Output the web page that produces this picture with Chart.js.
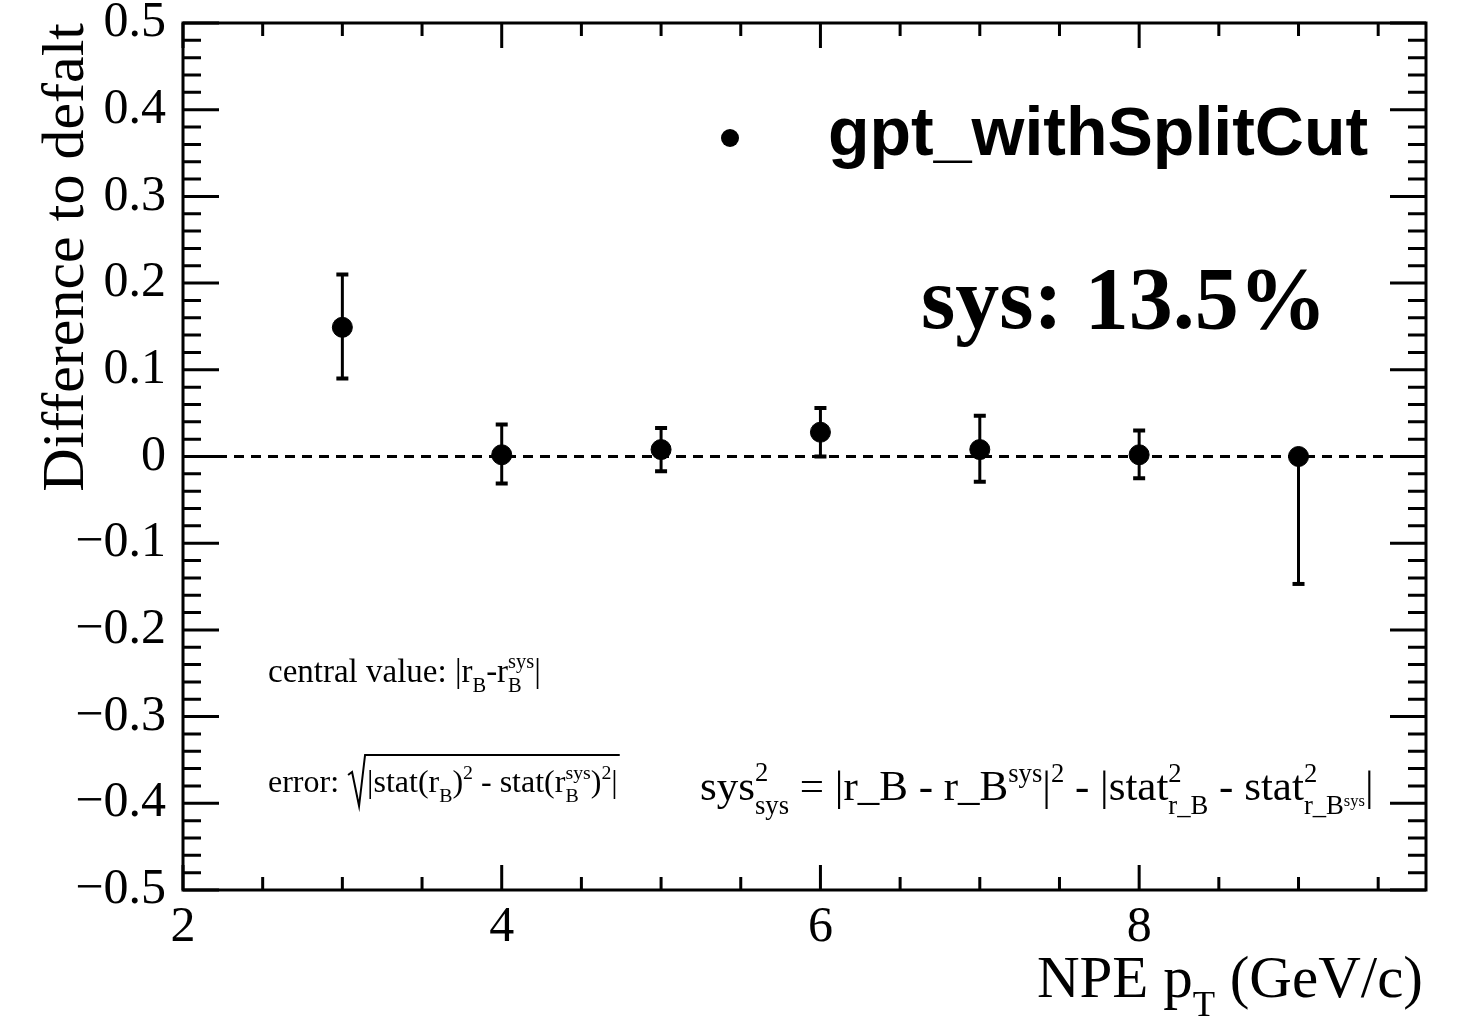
<!DOCTYPE html>
<html>
<head>
<meta charset="utf-8">
<script src="https://cdn.jsdelivr.net/npm/chart.js@4/dist/chart.umd.min.js"></script>
<style>
  html, body { margin: 0; padding: 0; background: #fff; }
  #wrap { width: 1481px; height: 1021px; }
</style>
</head>
<body>
<div id="wrap"><canvas id="c" width="1481" height="1021"></canvas></div>
<script>
// pT bin centres (GeV/c)
const ptBins = [3, 4, 5, 6, 7, 8, 9];
// difference to the default analysis
const diffValues = [0.149, 0.002, 0.008, 0.028, 0.008, 0.002, 0.000];
// error bar extents above / below each point
const errUp = [0.061, 0.035, 0.025, 0.028, 0.039, 0.028, 0.000];
const errDown = [0.059, 0.033, 0.025, 0.028, 0.037, 0.027, 0.147];

const xMin = 2, xMax = 9.8;
const yMin = -0.5, yMax = 0.5;
const xMajorTicks = [2, 4, 6, 8];

const SERIF = '"Liberation Serif", "Times New Roman", serif';
const SANS = '"Liberation Sans", Arial, sans-serif';

// rich text: strings are plain runs, {sup, sub} objects are stacked scripts
function rich(ctx, items, x, y, size, weight, draw) {
  let w = 0;
  for (const it of items) {
    if (typeof it === 'string') {
      ctx.font = `${weight} ${size}px ${SERIF}`;
      if (draw) ctx.fillText(it, x + w, y);
      w += ctx.measureText(it).width;
    } else {
      const s = size * (it.scale || 0.62);
      let w1 = 0, w2 = 0;
      if (it.sup) w1 = rich(ctx, it.sup, x + w, y - size * (it.supDy || 0.42), s, weight, draw);
      if (it.sub) w2 = rich(ctx, it.sub, x + w, y + size * (it.subDy || 0.3), s, weight, draw);
      w += Math.max(w1, w2) + (it.gap || 0);
    }
  }
  return w;
}

const zeroLine = [{x: xMin, y: 0}, {x: xMax, y: 0}];

const errorBars = {
  id: 'errorBars',
  afterDatasetsDraw(chart) {
    const ctx = chart.ctx;
    const xs = chart.scales.x, ys = chart.scales.y;
    ctx.save();
    ctx.strokeStyle = '#000';
    ptBins.forEach((pt, i) => {
      const px = xs.getPixelForValue(pt);
      const top = ys.getPixelForValue(diffValues[i] + errUp[i]);
      const bot = ys.getPixelForValue(diffValues[i] - errDown[i]);
      ctx.lineWidth = 3;
      ctx.beginPath();
      ctx.moveTo(px, top); ctx.lineTo(px, bot);
      ctx.stroke();
      ctx.lineWidth = 4;
      ctx.beginPath();
      if (errUp[i] > 0) { ctx.moveTo(px - 6, top); ctx.lineTo(px + 6, top); }
      if (errDown[i] > 0) { ctx.moveTo(px - 6, bot); ctx.lineTo(px + 6, bot); }
      ctx.stroke();
    });
    ctx.restore();
  }
};

const frameAndText = {
  id: 'frameAndText',
  afterDraw(chart) {
    const ctx = chart.ctx;
    const a = chart.chartArea;
    const xs = chart.scales.x, ys = chart.scales.y;
    ctx.save();
    ctx.strokeStyle = '#000';
    ctx.lineWidth = 3;
    ctx.strokeRect(a.left, a.top, a.right - a.left, a.bottom - a.top);
    ctx.beginPath();
    // x ticks, bottom and top
    for (let v = xMin; v <= xMax + 1e-9; v += 0.5) {
      const p = xs.getPixelForValue(v);
      const major = Math.abs(v / 2 - Math.round(v / 2)) < 1e-9;
      const len = major ? 25 : 13;
      ctx.moveTo(p, a.bottom); ctx.lineTo(p, a.bottom - len);
      ctx.moveTo(p, a.top); ctx.lineTo(p, a.top + len);
    }
    // y ticks, left and right
    for (let k = -25; k <= 25; k++) {
      const v = k * 0.02;
      const p = ys.getPixelForValue(v);
      const len = (k % 5 === 0) ? 36 : 18;
      ctx.moveTo(a.left, p); ctx.lineTo(a.left + len, p);
      ctx.moveTo(a.right, p); ctx.lineTo(a.right - len, p);
    }
    ctx.stroke();

    ctx.fillStyle = '#000';
    ctx.textBaseline = 'alphabetic';
    ctx.textAlign = 'left';

    // x axis title, right aligned to the frame
    const xt = ['NPE p', {sub: ['T'], subDy: 0.32, scale: 0.62}, ' (GeV/c)'];
    const xtw = rich(ctx, xt, 0, 0, 59, 'normal', false);
    rich(ctx, xt, a.right - 3 - xtw, 997, 59, 'normal', true);

    // legend
    ctx.beginPath();
    ctx.arc(730, 138, 9, 0, Math.PI * 2);
    ctx.fill();
    ctx.font = `bold 68px ${SANS}`;
    ctx.textBaseline = 'middle';
    ctx.fillText('gpt_withSplitCut', 828, 136);
    ctx.textBaseline = 'alphabetic';

    // systematic result
    ctx.font = `bold 88px ${SERIF}`;
    ctx.fillText('sys: 13.5%', 921, 328);

    // central value definition
    const cv = ['central value: |r', {sub: ['B']}, '-r', {sup: ['sys'], sub: ['B']}, '|'];
    rich(ctx, cv, 268, 682, 33, 'normal', true);

    // error definition with a square root sign
    ctx.font = `normal 32px ${SERIF}`;
    const ePre = 'error: ';
    const ex = 268 + ctx.measureText(ePre).width;
    ctx.fillText(ePre, 268, 792);
    const eBody = ['|stat(r', {sub: ['B']}, ')', {sup: ['2']}, ' - stat(r', {sup: ['sys'], sub: ['B']}, ')', {sup: ['2']}, '|'];
    const rootW = 20;
    const bw = rich(ctx, eBody, 0, 0, 32, 'normal', false);
    rich(ctx, eBody, ex + rootW, 792, 32, 'normal', true);
    ctx.lineWidth = 2;
    ctx.beginPath();
    ctx.moveTo(ex + 1, 775);
    ctx.lineTo(ex + 5, 772);
    ctx.lineTo(ex + 12, 806);
    ctx.lineTo(ex + rootW - 2, 755);
    ctx.lineTo(ex + rootW + bw + 2, 755);
    ctx.stroke();

    // systematic uncertainty definition
    const sf = ['sys', {sup: ['2'], sub: ['sys'], supDy: 0.45, subDy: 0.32},
      ' = |r_B - r_B', {sup: ['sys']}, '|', {sup: ['2']}, ' - |stat',
      {sup: ['2'], sub: ['r_B'], subDy: 0.32}, ' - stat',
      {sup: ['2'], sub: ['r_B', {sup: ['sys'], supDy: 0.3}], subDy: 0.32}, '|'];
    rich(ctx, sf, 700, 800, 43, 'normal', true);
    ctx.restore();
  }
};

new Chart(document.getElementById('c'), {
  type: 'scatter',
  data: {
    datasets: [
      {
        type: 'line',
        data: zeroLine,
        borderColor: '#000',
        borderWidth: 3,
        borderDash: [10, 7],
        pointRadius: 0,
        order: 2
      },
      {
        data: ptBins.map((x, i) => ({x, y: diffValues[i]})),
        backgroundColor: '#000',
        borderColor: '#000',
        pointRadius: 10,
        pointHoverRadius: 10,
        order: 1
      }
    ]
  },
  options: {
    responsive: false,
    animation: false,
    events: [],
    layout: { padding: { left: 0, top: 23, right: 55, bottom: 0 } },
    plugins: { legend: { display: false }, tooltip: { enabled: false } },
    scales: {
      x: {
        type: 'linear',
        min: xMin, max: xMax,
        grid: { display: false, drawTicks: false },
        border: { display: false },
        ticks: {
          stepSize: 0.5,
          autoSkip: false,
          maxRotation: 0,
          padding: 8,
          color: '#000',
          font: { family: SERIF, size: 50 },
          callback: v => xMajorTicks.includes(v) ? String(v) : ''
        },
        afterFit: s => { s.height = 131; s.paddingLeft = 0; s.paddingRight = 0; }
      },
      y: {
        type: 'linear',
        min: yMin, max: yMax,
        grid: { display: false, drawTicks: false },
        border: { display: false },
        ticks: {
          stepSize: 0.1,
          autoSkip: false,
          padding: 17,
          color: '#000',
          font: { family: SERIF, size: 50 },
          callback: v => {
            const r = Math.round(v * 10) / 10;
            if (r === 0) return '0';
            return (r < 0 ? '\u2212' : '') + Math.abs(r).toFixed(1);
          }
        },
        title: {
          display: true,
          text: 'Difference to defalt',
          align: 'end',
          color: '#000',
          font: { family: SERIF, size: 60 },
          padding: { top: 31, bottom: 0 }
        },
        afterFit: s => { s.width = 183; s.paddingTop = 0; s.paddingBottom = 0; }
      }
    }
  },
  plugins: [errorBars, frameAndText]
});
</script>
</body>
</html>
